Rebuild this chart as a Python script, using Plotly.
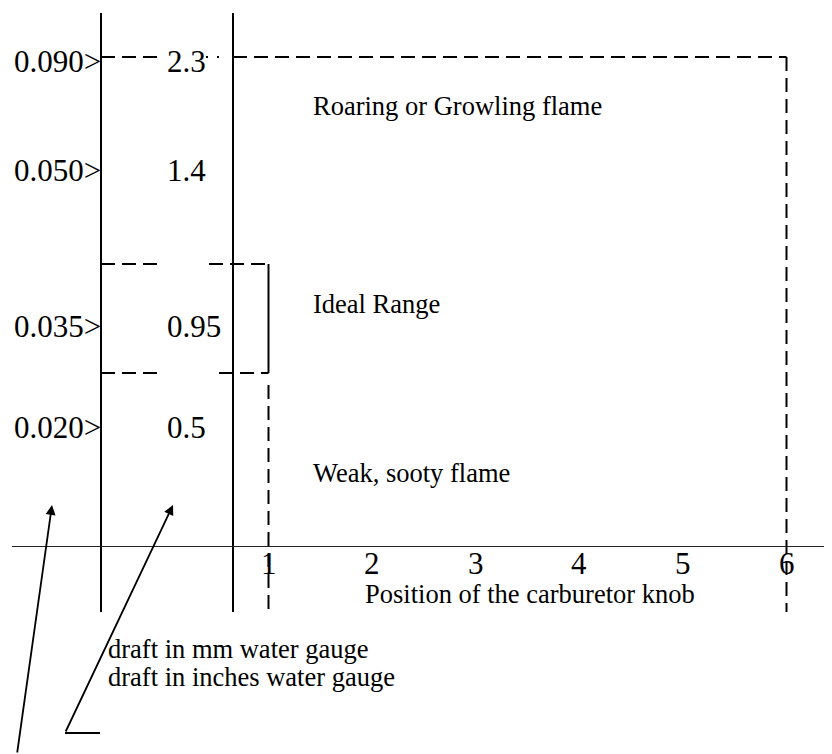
import plotly.graph_objects as go

# ---------------- data ----------------
knob_positions = [1, 2, 3, 4, 5, 6]
knob_labels = ["1", "2", "3", "4", "5", "6"]
draft_inches = ["0.090", "0.050", "0.035", "0.020"]
draft_mm = ["2.3", "1.4", "0.95", "0.5"]
region_names = ["Roaring or Growling flame", "Ideal Range", "Weak, sooty flame"]
ideal_knob = 1      # ideal / weak boundary (knob position)
max_knob = 6        # upper boundary (knob position)
axis_title = "Position of the carburetor knob"
legend_lines = ["draft in mm water gauge", "draft in inches water gauge"]

# ---------------- diagram geometry (page pixels) ----------------
PAGE_OFF = 8                            # default body margin of the html page
W, H = 832 - PAGE_OFF, 754 - PAGE_OFF
ML = 4                                  # plot area starts at page x = 12
X0_PX, UNIT_PX = 268.5, 103.6           # knob 1 position and px per knob unit


def kx(px):
    """diagram column (page px) -> knob units"""
    return 1 + (px - X0_PX) / UNIT_PX


COL_INCH = kx(101)      # solid line right of inch labels
COL_MM = kx(233)        # solid line right of mm labels
Y_LINES_TOP, Y_LINES_BOT = 13, 612
Y_AXIS = 546
Y_ROAR = 57
Y_IDEAL_TOP, Y_IDEAL_BOT = 264, 373
Y_WEAK_TOP = 385
ROW_Y = [61.5, 170, 326.5, 427.5]
REGION_Y = [106, 304, 473]
TICK_Y = 563.5

FONT = "Liberation Serif, Times New Roman, serif"
BLACK = "#000000"
DASH = "14px,7px"

fig = go.Figure()


def seg(x0, x1, y0, y1, dash="solid", width=2, color=BLACK):
    fig.add_trace(go.Scatter(x=[x0, x1], y=[y0, y1], mode="lines",
                             line=dict(color=color, width=width, dash=dash),
                             hoverinfo="skip", showlegend=False))


# solid vertical separators
seg(COL_INCH, COL_INCH, Y_LINES_TOP, Y_LINES_BOT)
seg(COL_MM, COL_MM, Y_LINES_TOP, Y_LINES_BOT)

# roaring boundary (top) with break for "2.3"
seg(COL_INCH, kx(160), Y_ROAR, Y_ROAR, dash=DASH)
seg(kx(206), kx(228), Y_ROAR, Y_ROAR, dash="2px,9px")
seg(COL_MM, max_knob, Y_ROAR, Y_ROAR, dash=DASH)
seg(max_knob, max_knob, Y_ROAR, Y_LINES_BOT, dash=DASH)

# ideal range box
seg(COL_INCH, kx(161), Y_IDEAL_TOP, Y_IDEAL_TOP, dash=DASH)
seg(kx(209), ideal_knob, Y_IDEAL_TOP, Y_IDEAL_TOP, dash=DASH)
seg(COL_INCH, kx(161), Y_IDEAL_BOT, Y_IDEAL_BOT, dash=DASH)
seg(kx(219), ideal_knob, Y_IDEAL_BOT, Y_IDEAL_BOT, dash=DASH)
seg(ideal_knob, ideal_knob, Y_IDEAL_TOP, Y_IDEAL_BOT)

# weak boundary
seg(ideal_knob, ideal_knob, Y_WEAK_TOP, Y_LINES_BOT, dash=DASH)

# pointer foot
seg(kx(65), kx(100), 733, 733, width=1.8)

annotations = []

# inch labels & mm labels
for lab, y in zip(draft_inches, ROW_Y):
    annotations.append(dict(x=kx(103), y=y, text=lab + "&gt;", showarrow=False,
                            xanchor="right", yanchor="middle",
                            font=dict(family=FONT, size=31, color=BLACK)))
for lab, y in zip(draft_mm, ROW_Y):
    annotations.append(dict(x=kx(165), y=y, text=lab, showarrow=False,
                            xanchor="left", yanchor="middle",
                            font=dict(family=FONT, size=31, color=BLACK)))

# knob tick labels on the x scale
for k, lab in zip(knob_positions, knob_labels):
    annotations.append(dict(x=k, y=TICK_Y, text=lab, showarrow=False,
                            xanchor="center", yanchor="middle",
                            font=dict(family=FONT, size=31, color=BLACK)))

# region labels
for lab, y in zip(region_names, REGION_Y):
    annotations.append(dict(x=kx(311), y=y, text=lab, showarrow=False,
                            xanchor="left", yanchor="middle",
                            font=dict(family=FONT, size=26.5, color=BLACK)))

# axis title
annotations.append(dict(x=kx(363), y=594, text=axis_title, showarrow=False,
                        xanchor="left", yanchor="middle",
                        font=dict(family=FONT, size=26.5, color=BLACK)))

# legend text
for lab, y in zip(legend_lines, [649, 677]):
    annotations.append(dict(x=kx(106), y=y, text=lab, showarrow=False,
                            xanchor="left", yanchor="middle",
                            font=dict(family=FONT, size=26.5, color=BLACK)))

# arrows
for (hx, hy), (tx, ty) in [((52, 505), (17, 754)), ((173, 505), (65, 733))]:
    annotations.append(dict(x=kx(hx), y=hy, ax=kx(tx), ay=ty, axref="x", ayref="y",
                            text="", showarrow=True,
                            arrowhead=2, arrowsize=1.1, arrowwidth=1.8,
                            arrowcolor=BLACK, standoff=0, startstandoff=0))

for a in annotations:
    a.setdefault("xref", "x")
    a.setdefault("yref", "y")

fig.update_layout(
    width=W, height=H,
    margin=dict(l=ML, r=0, t=0, b=0),
    paper_bgcolor="white", plot_bgcolor="white",
    showlegend=False,
    annotations=annotations,
    xaxis=dict(range=[kx(PAGE_OFF + ML), kx(PAGE_OFF + W)], showgrid=False,
               zeroline=False, showline=True, linecolor="#222222", linewidth=1,
               anchor="free", position=(H - (Y_AXIS - PAGE_OFF)) / H,
               tickmode="array", tickvals=knob_positions, ticktext=knob_labels,
               ticks="", showticklabels=False, fixedrange=True),
    yaxis=dict(range=[PAGE_OFF + H, PAGE_OFF], visible=False, showgrid=False,
               zeroline=False, fixedrange=True),
)

fig.write_html("out.html")
